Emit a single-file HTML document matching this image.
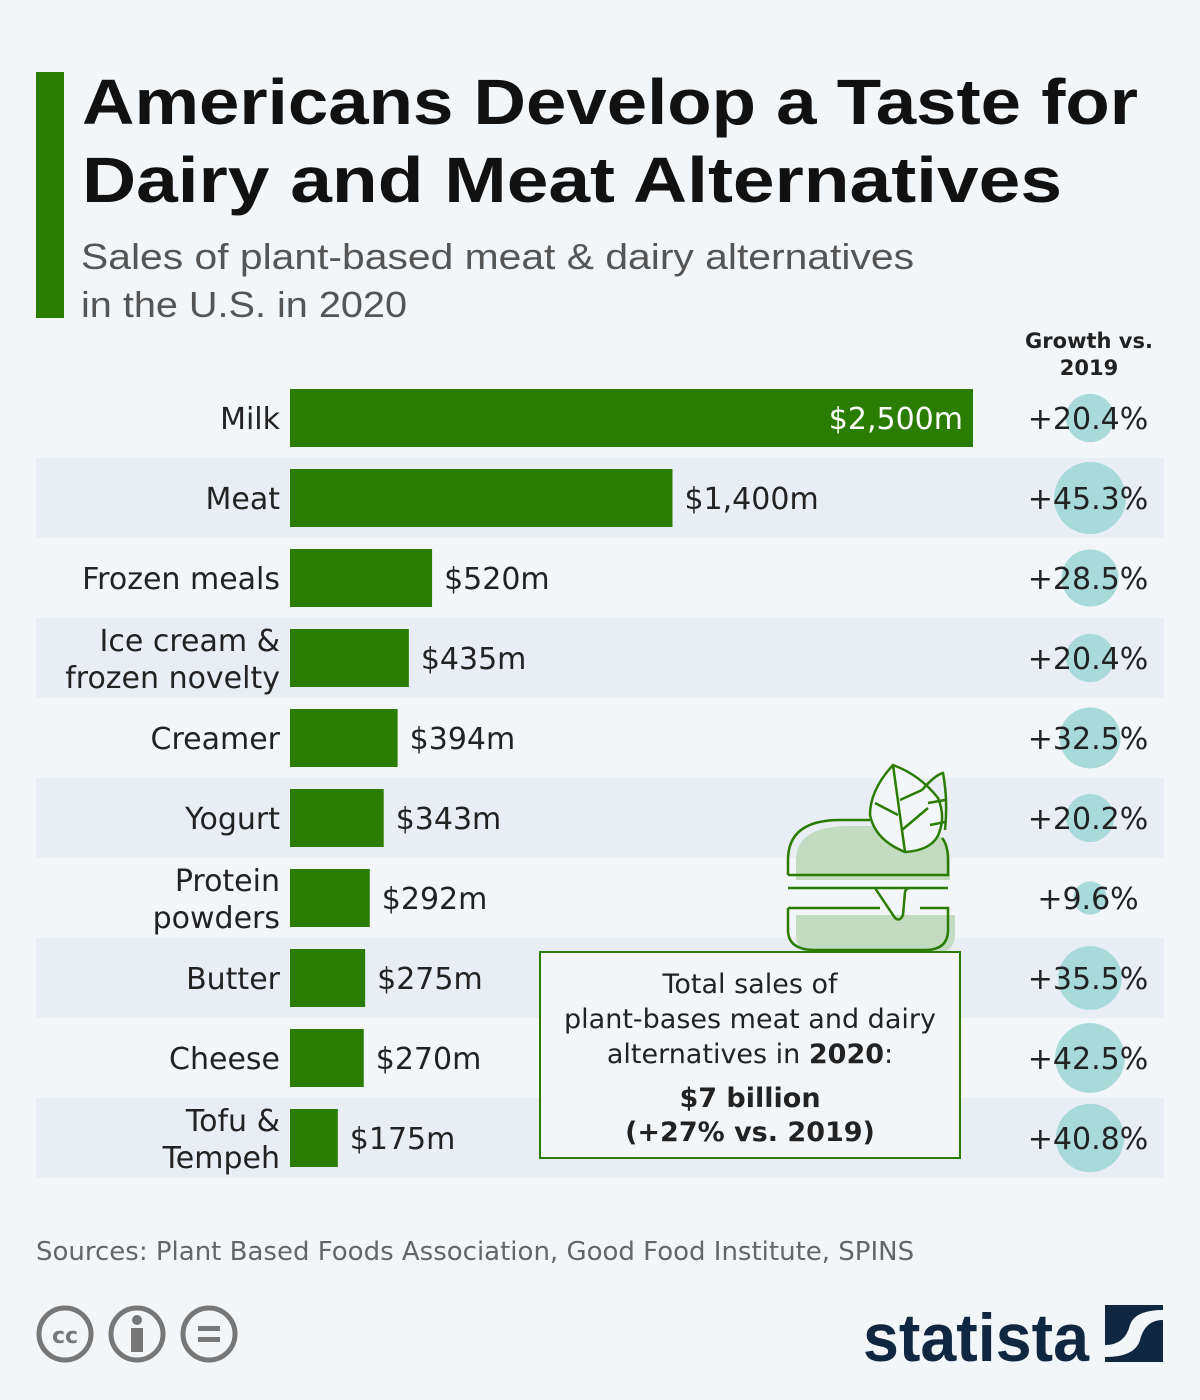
<!DOCTYPE html>
<html><head><meta charset="utf-8"><style>
body{margin:0;background:#f3f6f9;}
svg{display:block;font-family:"DejaVu Sans","Liberation Sans",sans-serif;}
</style></head><body>
<svg id="chart" width="1200" height="1400" viewBox="0 0 1200 1400">
<rect x="0" y="0" width="1200" height="1400" fill="#f3f6f9"/>
<rect x="36" y="72" width="28" height="246" fill="#2a7d00"/>
<text x="82" y="124" font-size="64" font-weight="bold" fill="#111" textLength="1056" lengthAdjust="spacingAndGlyphs" font-family="Liberation Sans, sans-serif">Americans Develop a Taste for</text>
<text x="82" y="202" font-size="64" font-weight="bold" fill="#111" textLength="980" lengthAdjust="spacingAndGlyphs" font-family="Liberation Sans, sans-serif">Dairy and Meat Alternatives</text>
<text x="81" y="269" font-size="36" fill="#555" textLength="833" lengthAdjust="spacingAndGlyphs" font-family="Liberation Sans, sans-serif">Sales of plant-based meat &amp; dairy alternatives</text>
<text x="81" y="317" font-size="36" fill="#555" textLength="326" lengthAdjust="spacingAndGlyphs" font-family="Liberation Sans, sans-serif">in the U.S. in 2020</text>
<text x="1089" y="348" font-size="21" font-weight="bold" fill="#222" text-anchor="middle">Growth vs.</text>
<text x="1089" y="375" font-size="21" font-weight="bold" fill="#222" text-anchor="middle">2019</text>
<g id="rows"></g>
<g fill="none" stroke="#2a7d00" stroke-width="2.5">
<path d="M796 880 V860 Q796 826 850 826 H905 Q950 826 950 860 V880 Z" fill="#c3dbc0" stroke="none"/>
<path d="M796 915 H955 V935 Q955 955 925 955 H820 Q796 955 796 935 Z" fill="#c3dbc0" stroke="none"/>
<path d="M788 875 V860 Q788 820 840 820 H870"/>
<path d="M788 875 H948 V860 Q948 845 942 838"/>
<path d="M788 888 H948"/>
<path d="M788 908 V930 Q788 950 815 950 H925 Q948 950 948 930 V908 H920 M880 908 H788"/>
<path d="M875 888 L895 918 Q900 922 903 915 L905 892 Q906 888 910 888"/>
<path d="M893 765 Q870 790 870 815 Q875 840 905 852 Q935 850 940 830 Q945 815 938 798 Q920 775 893 765 Z" fill="#f3f6f9"/>
<path d="M893 765 L905 852 M875 803 L898 815 M900 800 L922 790 M902 830 L928 808"/>
<path d="M922 790 Q935 775 943 773 Q948 800 945 830 M928 803 L945 800 M930 825 L945 822"/>
</g>
<rect x="540" y="952" width="420" height="206" fill="#f3f6f9" stroke="#2a7d00" stroke-width="2"/>
<g font-size="27" fill="#222" text-anchor="middle">
<text x="750" y="993">Total sales of</text>
<text x="750" y="1028">plant-bases meat and dairy</text>
<text x="750" y="1063">alternatives in <tspan font-weight="bold">2020</tspan>:</text>
<text x="750" y="1107" font-weight="bold">$7 billion</text>
<text x="750" y="1141" font-weight="bold">(+27% vs. 2019)</text>
</g>
<text x="36" y="1260" font-size="26" fill="#666">Sources: Plant Based Foods Association, Good Food Institute, SPINS</text>
<g stroke="#777" stroke-width="5" fill="none">
<circle cx="65" cy="1334" r="26"/><circle cx="137" cy="1334" r="26"/><circle cx="209" cy="1334" r="26"/>
</g>
<text x="65" y="1343" font-size="22" font-weight="bold" fill="#777" text-anchor="middle">cc</text>
<circle cx="137" cy="1320" r="5" fill="#777"/><rect x="131" y="1328" width="12" height="24" fill="#777"/>
<rect x="198" y="1326" width="22" height="5" fill="#777"/><rect x="198" y="1337" width="22" height="5" fill="#777"/>
<text x="863" y="1361" font-size="68" font-weight="bold" fill="#0f2741" textLength="226" lengthAdjust="spacingAndGlyphs" font-family="Liberation Sans, sans-serif">statista</text>
<rect x="1105" y="1305" width="58" height="57" fill="#0f2741"/>
<path d="M1105 1345 Q1125 1345 1130 1325 Q1135 1310 1163 1310 L1163 1320 Q1145 1320 1140 1340 Q1135 1357 1105 1357 Z" fill="#f3f6f9"/>
</svg>
<script>
const categories=["Milk","Meat","Frozen meals","Ice cream &|frozen novelty","Creamer","Yogurt","Protein|powders","Butter","Cheese","Tofu &|Tempeh"];
const salesValues=[2500,1400,520,435,394,343,292,275,270,175];
const growthValues=[20.4,45.3,28.5,20.4,32.5,20.2,9.6,35.5,42.5,40.8];
const valueLabels=["$2,500m","$1,400m","$520m","$435m","$394m","$343m","$292m","$275m","$270m","$175m"];
const growthLabels=["+20.4%","+45.3%","+28.5%","+20.4%","+32.5%","+20.2%","+9.6%","+35.5%","+42.5%","+40.8%"];
const NS="http://www.w3.org/2000/svg";
const g=document.getElementById('rows');
const x0=290, xMax=973;
const xScale=v=>(v/2500)*(xMax-x0);
const yCenter=i=>418+i*80;
const rScale=v=>5.35*Math.sqrt(v);
function mk(t,a){const e=document.createElementNS(NS,t);for(const k in a)e.setAttribute(k,a[k]);g.appendChild(e);return e;}
categories.forEach((c,i)=>{
 const y=yCenter(i);
 if(i%2===1){const bg=mk('rect',{x:36,y:y-40,width:1128,height:80,fill:'#e9eef5'});
 
 }
});
categories.forEach((c,i)=>{
 const y=yCenter(i);
 const circ=mk('circle',{cx:1090,cy:y,r:rScale(growthValues[i]),fill:'#a8dada'});
 
 
 const w=xScale(salesValues[i]);
 const bar=mk('rect',{x:x0,y:y-29,width:w,height:58,fill:'#2a7d00'});
 
 
 const parts=c.split('|');
 parts.forEach((p,j)=>{
  const ty=parts.length===1?y+11:y-7+j*37;
  const t=mk('text',{x:280,y:ty,'font-size':30,fill:'#222','text-anchor':'end'});
  t.textContent=p;
  
  
 });
 const inside=w>500;
 const v=mk('text',{x:inside?x0+w-10:x0+w+12,y:y+11,'font-size':30,fill:inside?'#fff':'#222','text-anchor':inside?'end':'start'});
 v.textContent=valueLabels[i];
 
 
 const gl=mk('text',{x:1088,y:y+11,'font-size':30,fill:'#222','text-anchor':'middle'});
 gl.textContent=growthLabels[i];
 
 
});
</script>
</body></html>
